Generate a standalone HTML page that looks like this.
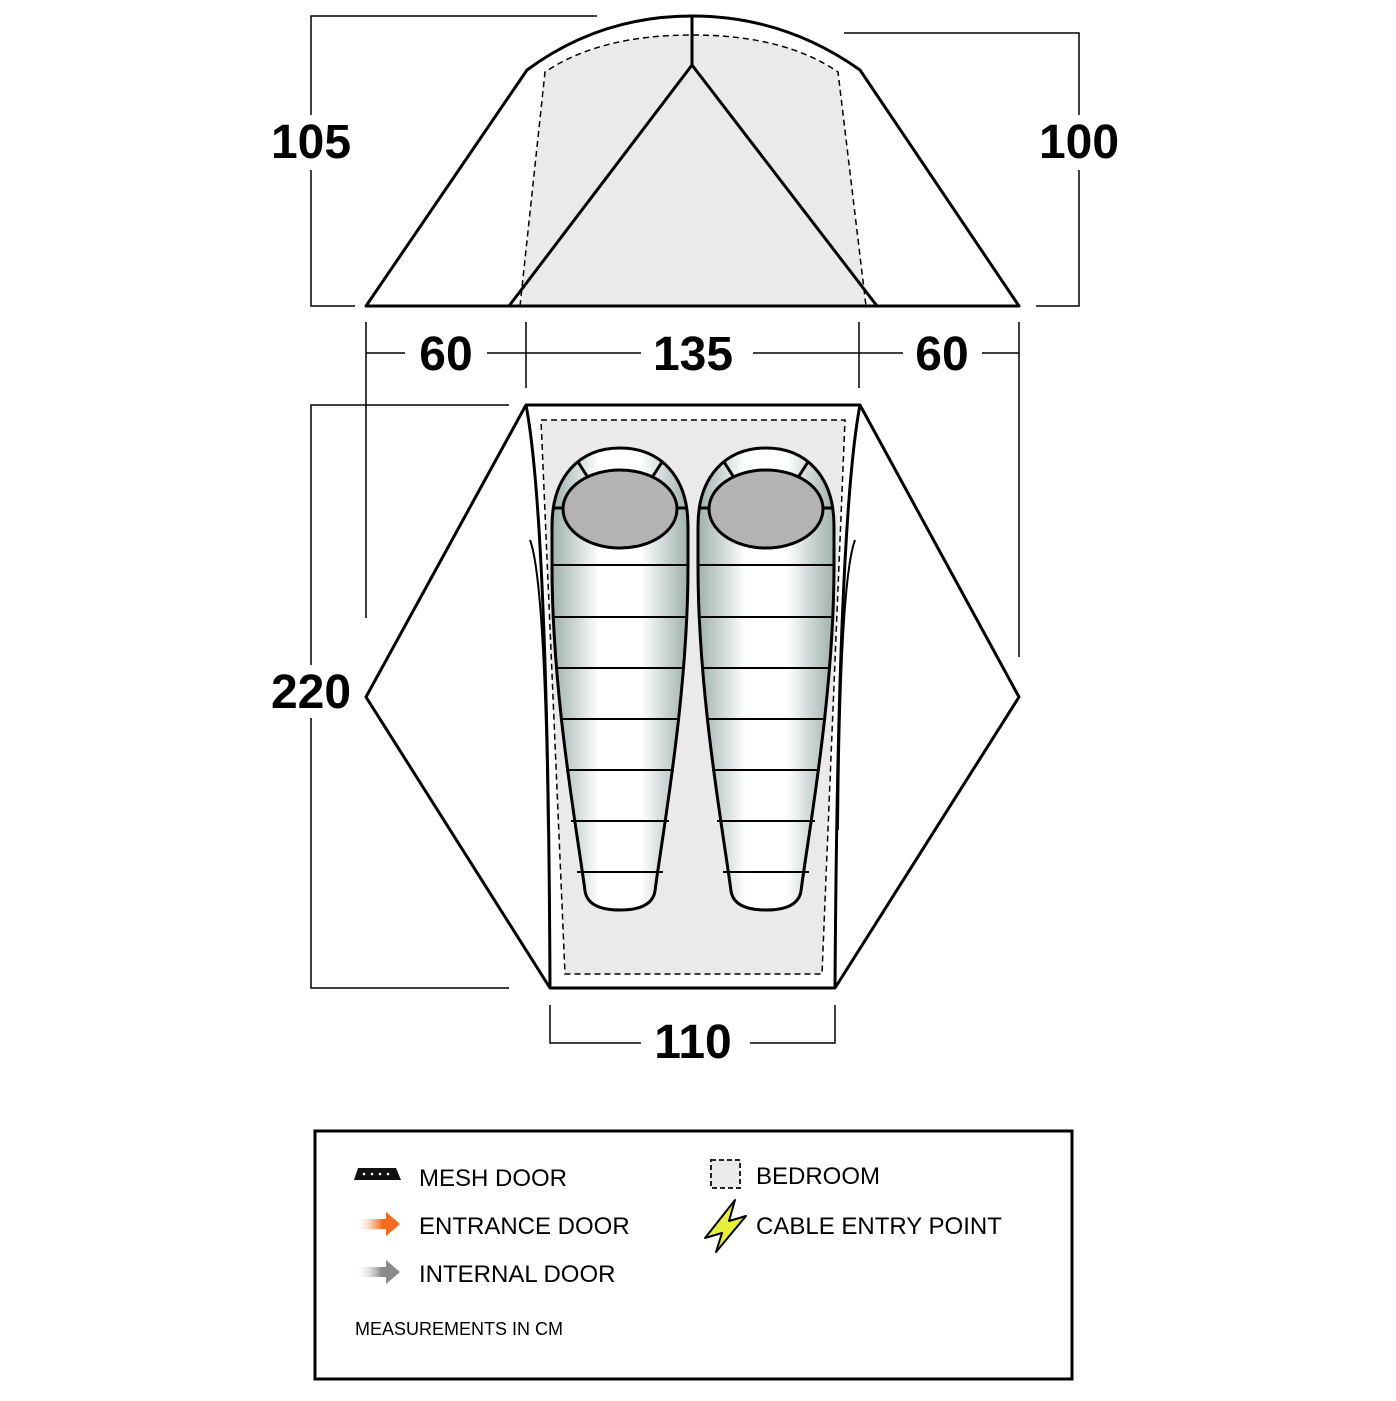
<!DOCTYPE html>
<html><head><style>
body{margin:0;background:#fff}
svg text{font-family:"Liberation Sans",sans-serif}
</style></head><body>
<svg width="1396" height="1396" viewBox="0 0 1396 1396" xmlns="http://www.w3.org/2000/svg">
<defs>
<linearGradient id="bg" x1="0" x2="1" y1="0" y2="0">
<stop offset="0" stop-color="#9fb0ac"/><stop offset="0.35" stop-color="#ffffff"/><stop offset="0.65" stop-color="#ffffff"/><stop offset="1" stop-color="#9fb0ac"/></linearGradient>
<linearGradient id="og" x1="0" x2="1"><stop offset="0" stop-color="#fff" stop-opacity="0"/><stop offset="0.6" stop-color="#f26a1b"/><stop offset="1" stop-color="#f26a1b"/></linearGradient>
<linearGradient id="gg" x1="0" x2="1"><stop offset="0" stop-color="#fff" stop-opacity="0"/><stop offset="0.6" stop-color="#8a8a8a"/><stop offset="1" stop-color="#8a8a8a"/></linearGradient>
<g id="bag">
<path d="M-68,60 C-68,10 -40,-18 0,-18 C40,-18 68,10 68,60 L68,100 C68,230 42,370 35,425 Q32,444 0,444 Q-32,444 -35,425 C-42,370 -68,230 -68,100 Z" fill="url(#bg)" stroke="#000" stroke-width="3"/>
<ellipse cx="0" cy="43" rx="57" ry="39" fill="#b3b3b3" stroke="#000" stroke-width="3"/>
<path d="M-42,-4 L-33,10 M42,-4 L33,10 M-68,42 L-57,42 M68,42 L57,42" stroke="#000" stroke-width="3"/>
<path d="M-68,99 H68 M-66,151 H66 M-62,202 H62 M-58,253 H58 M-54,304 H54 M-49,355 H49 M-43,406 H43" stroke="#000" stroke-width="2"/>
</g>
</defs>
<g fill="none" stroke="#000" stroke-width="3" stroke-linejoin="round">
<path d="M366,306 L527,70 Q600,16 692,16 Q784,16 860,70 L1019,306 Z" fill="#fff"/>
<path d="M520,306 L545,72 Q600,35 692,35 Q784,35 838,72 L866,306 Z" fill="#e9eae9" stroke-width="1.5" stroke-dasharray="6,4"/>
<path d="M509,306 L692,65 L877,306 M692,16 V65"/>
<path d="M366,306 H1019"/>
</g>
<g fill="none" stroke="#000" stroke-width="1.5">
<path d="M597,16 H311 V115 M311,170 V306 H355"/>
<path d="M844,33 H1079 V115 M1079,170 V306 H1036"/>
<path d="M366,322 V618 M526,322 V388 M859,322 V388 M1019,322 V657"/>
<path d="M366,353 H405 M487,353 H526 M526,353 H641 M753,353 H859 M859,353 H903 M982,353 H1019"/>
<path d="M509,405 H311 V665 M311,718 V988 H509"/>
<path d="M550,1005 V1043 H641 M750,1043 H835 V1005"/>
</g>
<g fill="none" stroke="#000" stroke-width="3" stroke-linejoin="round">
<path d="M366,697 L526,405 H860 L1019,697 L835,988 H550 Z" fill="#fff"/>
<path d="M526,405 Q548,520 550,988 M860,405 Q838,520 835,988" />
<path d="M530,540 Q545,580 548,830 M855,540 Q840,580 838,830" stroke-width="2"/>
</g>
<path d="M541,420 H845 L822,974 H565 Z" fill="#e9eae9" stroke="#000" stroke-width="1.5" stroke-dasharray="6,4"/>
<use href="#bag" x="620" y="466"/>
<use href="#bag" x="766" y="466"/>
<g font-size="48" font-weight="bold" text-anchor="middle" fill="#000">
<text x="311" y="158">105</text>
<text x="1079" y="158">100</text>
<text x="446" y="370">60</text>
<text x="693" y="370">135</text>
<text x="942" y="370">60</text>
<text x="311" y="708">220</text>
<text x="693" y="1058">110</text>
</g>
<rect x="315" y="1131" width="757" height="248" fill="none" stroke="#000" stroke-width="3"/>
<g font-size="24" fill="#000">
<text x="419" y="1186">MESH DOOR</text>
<text x="419" y="1234">ENTRANCE DOOR</text>
<text x="419" y="1282">INTERNAL DOOR</text>
<text x="756" y="1184">BEDROOM</text>
<text x="756" y="1234">CABLE ENTRY POINT</text>
<text x="355" y="1335" font-size="18">MEASUREMENTS IN CM</text>
</g>
<path d="M358,1168 H396 L401,1180 H354 Z" fill="#111"/>
<g fill="#fff"><circle cx="364" cy="1174" r="1.3"/><circle cx="372" cy="1174" r="1.3"/><circle cx="380" cy="1174" r="1.3"/><circle cx="388" cy="1174" r="1.3"/></g>
<path d="M355,1219 H386 V1212 L400,1224 L386,1236 V1229 H355 Z" fill="url(#og)"/>
<path d="M355,1267 H386 V1260 L400,1272 L386,1284 V1277 H355 Z" fill="url(#gg)"/>
<rect x="711" y="1160" width="29" height="28" fill="#e9eae9" stroke="#222" stroke-width="2" stroke-dasharray="5,3"/>
<path d="M735,1200 L705,1238 L722,1233 L716,1252 L746,1216 L729,1221 Z" fill="#e6f03a" stroke="#000" stroke-width="2" stroke-linejoin="round"/>
</svg>
</body></html>
